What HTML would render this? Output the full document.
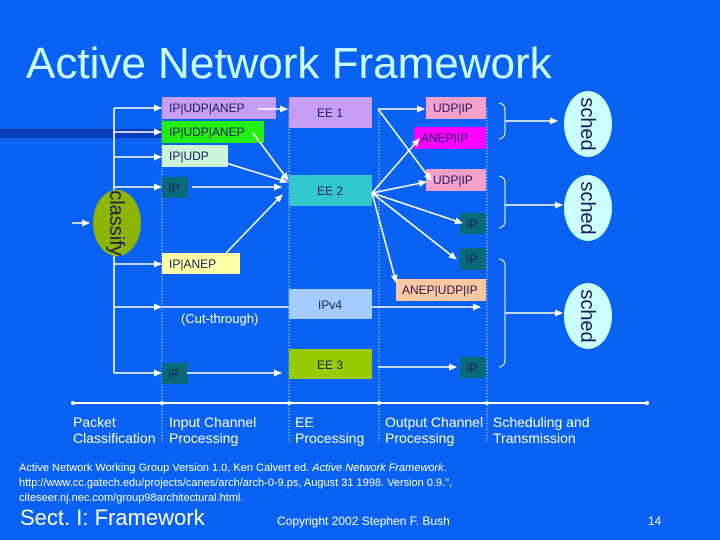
<!DOCTYPE html>
<html><head><meta charset="utf-8"><style>
html,body{margin:0;padding:0;background:#0a62f4;}
svg{display:block;font-family:"Liberation Sans",sans-serif;}
.b{font-size:12px;fill:#1c1c5c;}
.w{stroke:#fff;stroke-width:1.6;fill:none;}
.d{stroke:#fff;stroke-width:0.8;stroke-dasharray:1.2 1.8;}
.t{font-size:14px;fill:#fff;}
</style></head><body>
<svg width="720" height="540" viewBox="0 0 720 540">
<defs><marker id="a" markerWidth="8" markerHeight="8" refX="7" refY="4" orient="auto" markerUnits="userSpaceOnUse"><path d="M0,0.5 L8,4 L0,7.5 z" fill="#fff"/></marker></defs>
<rect width="720" height="540" fill="#0a62f4"/>
<text x="26" y="78" font-size="44" fill="#ccffff">Active Network Framework</text>
<!-- dark band -->
<rect x="0" y="129" width="162" height="9" fill="#0a3cb8"/>
<!-- dotted lines -->
<line class="d" x1="162" y1="108" x2="162" y2="442"/>
<line class="d" x1="289" y1="108" x2="289" y2="442"/>
<line class="d" x1="379" y1="108" x2="379" y2="442"/>
<line class="d" x1="487" y1="108" x2="487" y2="442"/>
<!-- boxes -->
<rect x="162" y="97" width="114" height="22" fill="#c89ef2"/><text class="b" x="169" y="112">IP|UDP|ANEP</text>
<rect x="162" y="121" width="102" height="22" fill="#22ee10"/><text class="b" x="169" y="136">IP|UDP|ANEP</text>
<rect x="162" y="145" width="66" height="22" fill="#ccf4d8"/><text class="b" x="169" y="160">IP|UDP</text>
<rect x="162" y="177" width="26" height="21" fill="#0a6a7a"/><text class="b" x="168" y="192">IP</text>
<rect x="162" y="253" width="78" height="21" fill="#ffffa6"/><text class="b" x="169" y="268">IP|ANEP</text>
<rect x="162" y="363" width="26" height="21" fill="#0a6a7a"/><text class="b" x="168" y="378">IP</text>
<rect x="289" y="97" width="83" height="31" fill="#c89ef2"/><text class="b" x="317" y="117">EE 1</text>
<rect x="289" y="175" width="83" height="31" fill="#30c8cc"/><text class="b" x="317" y="195">EE 2</text>
<rect x="289" y="289" width="83" height="30" fill="#a4ccff"/><text class="b" x="318" y="309">IPv4</text>
<rect x="289" y="349" width="83" height="30" fill="#99cc00"/><text class="b" x="317" y="369">EE 3</text>
<rect x="426" y="97" width="60" height="22" fill="#f8a0cc"/><text class="b" x="433" y="112">UDP|IP</text>
<rect x="414" y="127" width="72" height="22" fill="#ff00ff"/><text class="b" x="421" y="142">ANEP|IP</text>
<rect x="426" y="169" width="60" height="22" fill="#f8a0cc"/><text class="b" x="433" y="184">UDP|IP</text>
<rect x="460" y="213" width="26" height="21" fill="#0a6a7a"/><text class="b" x="466" y="228">IP</text>
<rect x="460" y="248" width="26" height="22" fill="#0a6a7a"/><text class="b" x="466" y="263">IP</text>
<rect x="396" y="279" width="90" height="22" fill="#ffc8a0"/><text class="b" x="402" y="294">ANEP|UDP|IP</text>
<rect x="460" y="357" width="26" height="21" fill="#0a6a7a"/><text class="b" x="466" y="372">IP</text>
<text x="181" y="323" font-size="13" fill="#fff">(Cut-through)</text>
<!-- bus -->
<line class="w" x1="114" y1="108" x2="114" y2="373"/>
<g class="w" marker-end="url(#a)">
<line x1="114" y1="108" x2="161" y2="108"/>
<line x1="114" y1="132" x2="161" y2="132"/>
<line x1="114" y1="157" x2="161" y2="157"/>
<line x1="114" y1="187" x2="161" y2="187"/>
<line x1="114" y1="264" x2="161" y2="264"/>
<line x1="114" y1="307" x2="161" y2="307"/>
<line x1="114" y1="373" x2="161" y2="373"/>
<line x1="72" y1="223" x2="89" y2="223"/>
<line x1="258" y1="109" x2="287" y2="109"/>
<line x1="253" y1="133" x2="288" y2="180"/>
<line x1="226" y1="163" x2="287" y2="182"/>
<line x1="192" y1="187" x2="281" y2="187"/>
<line x1="226" y1="253" x2="282" y2="195"/>
<line x1="187" y1="373" x2="281" y2="373"/>
<line x1="378" y1="109" x2="424" y2="109"/>
<line x1="378" y1="109" x2="431" y2="180"/>
<line x1="372" y1="193" x2="419" y2="139"/>
<line x1="372" y1="193" x2="426" y2="182"/>
<line x1="372" y1="193" x2="462" y2="223"/>
<line x1="372" y1="193" x2="456" y2="259"/>
<line x1="372" y1="193" x2="396" y2="282"/>
<line x1="372" y1="307" x2="480" y2="307"/>
<line x1="378" y1="367" x2="456" y2="367"/>
<line x1="505" y1="121" x2="557" y2="121"/>
<line x1="505" y1="205" x2="562" y2="205"/>
<line x1="505" y1="313" x2="562" y2="313"/>
</g>
<line class="w" x1="162" y1="307" x2="289" y2="307"/>
<!-- braces -->
<g stroke="#fff" stroke-width="1" fill="none">
<path d="M499,103 Q505,104 505,110 L505,132 Q505,138 499,139"/>
<path d="M499,176 Q505,177 505,183 L505,221 Q505,227 499,228"/>
<path d="M499,259 Q505,260 505,266 L505,360 Q505,366 499,367"/>
</g>
<!-- ellipses -->
<ellipse cx="117" cy="223" rx="24" ry="33" fill="#8cb400"/>
<text transform="translate(110,223) rotate(90)" text-anchor="middle" font-size="20" fill="#1c1c5c">classify</text>
<ellipse cx="588" cy="124" rx="24" ry="33" fill="#ccffff"/>
<text transform="translate(581,124) rotate(90)" text-anchor="middle" font-size="20" fill="#1c1c5c">sched</text>
<ellipse cx="588" cy="208" rx="24" ry="33" fill="#ccffff"/>
<text transform="translate(581,208) rotate(90)" text-anchor="middle" font-size="20" fill="#1c1c5c">sched</text>
<ellipse cx="588" cy="316" rx="24" ry="33" fill="#ccffff"/>
<text transform="translate(581,316) rotate(90)" text-anchor="middle" font-size="20" fill="#1c1c5c">sched</text>
<!-- timeline -->
<line x1="73" y1="403" x2="647" y2="403" stroke="#fff" stroke-width="2"/>
<g fill="#fff"><circle cx="73" cy="403" r="2"/><circle cx="647" cy="403" r="2"/><circle cx="162" cy="403" r="2"/><circle cx="289" cy="403" r="2"/><circle cx="379" cy="403" r="2"/><circle cx="487" cy="403" r="2"/></g>
<text class="t" x="73" y="427">Packet</text><text class="t" x="73" y="443">Classification</text>
<text class="t" x="169" y="427">Input Channel</text><text class="t" x="169" y="443">Processing</text>
<text class="t" x="295" y="427">EE</text><text class="t" x="295" y="443">Processing</text>
<text class="t" x="385" y="427">Output Channel</text><text class="t" x="385" y="443">Processing</text>
<text class="t" x="493" y="427">Scheduling and</text><text class="t" x="493" y="443">Transmission</text>
<g font-size="11" fill="#fff">
<text x="19" y="471">Active Network Working Group Version 1.0, Ken Calvert ed. <tspan font-style="italic">Active Network Framework</tspan>.</text>
<text x="19" y="486">http://www.cc.gatech.edu/projects/canes/arch/arch-0-9.ps, August 31 1998. Version 0.9.",</text>
<text x="19" y="501">citeseer.nj.nec.com/group98architectural.html.</text>
</g>
<text x="20" y="525" font-size="22" fill="#fff">Sect. I: Framework</text>
<text x="277" y="525" font-size="12" fill="#fff">Copyright 2002 Stephen F. Bush</text>
<text x="648" y="525" font-size="12" fill="#fff">14</text>
</svg>
</body></html>
